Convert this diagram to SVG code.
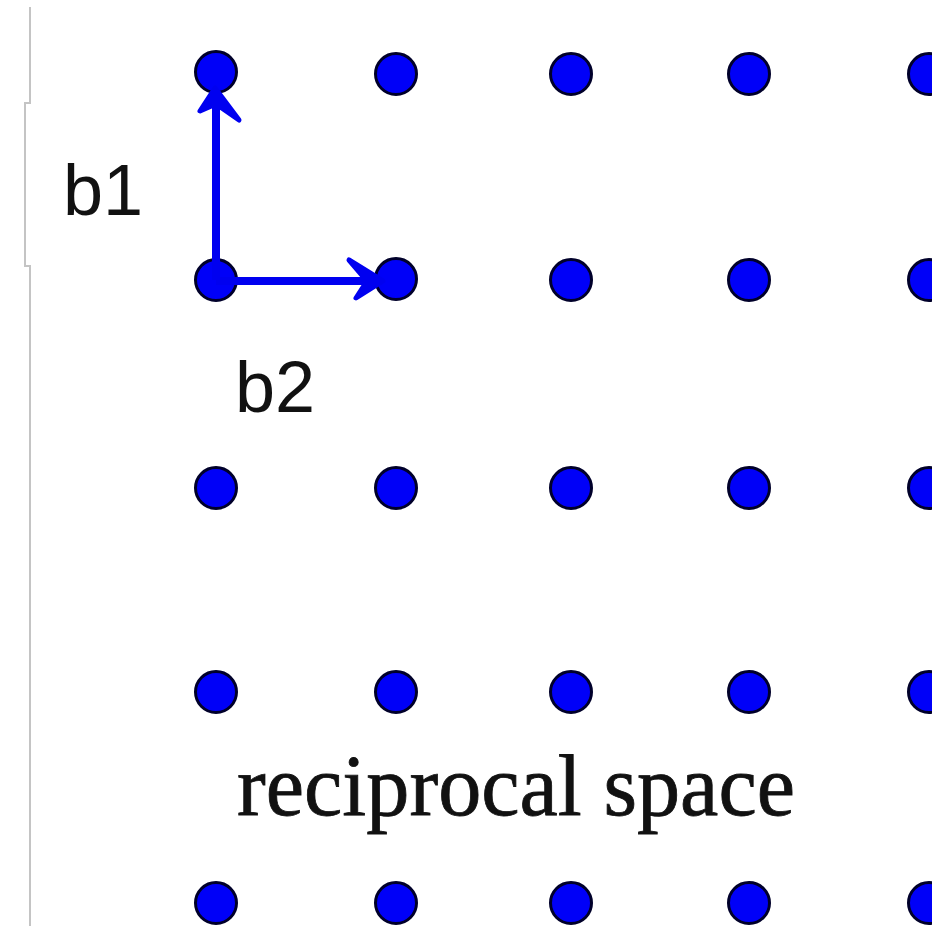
<svg xmlns="http://www.w3.org/2000/svg" width="932" height="926" viewBox="0 0 932 926">
  <style>
    .dot { fill: #0000f8; stroke: #00002a; stroke-width: 3; }
    .sans { font-family: "Liberation Sans", Arial, sans-serif; font-size: 72px; fill: #111; }
    .serif { font-family: "Liberation Serif", "Times New Roman", serif; font-size: 86px; fill: #111; stroke: #111; stroke-width: 0.8; }
    .vec { stroke: #0000f0; stroke-width: 8; fill: none; }
    .head { fill: #0000f0; stroke: #0000f0; stroke-width: 5; stroke-linejoin: round; }
  </style>
  <defs>
    <circle id="pt" r="20.5" class="dot"/>
  </defs>
  <rect width="932" height="926" fill="#ffffff"/>
  <g id="frame">
    <path d="M30,7 V103 H25 V266 H30 V926" fill="none" stroke="#c4c4c4" stroke-width="2"/>
  </g>
  <g id="lattice">
    <g id="row1">
      <use href="#pt" x="216" y="72"/><use href="#pt" x="396" y="74"/><use href="#pt" x="571" y="74"/><use href="#pt" x="749" y="74"/><use href="#pt" x="929" y="74"/>
    </g>
    <g id="row2">
      <use href="#pt" x="216" y="280"/><use href="#pt" x="396" y="279"/><use href="#pt" x="571" y="280"/><use href="#pt" x="749" y="280"/><use href="#pt" x="929" y="280"/>
    </g>
    <g id="row3">
      <use href="#pt" x="216" y="488"/><use href="#pt" x="396" y="488"/><use href="#pt" x="571" y="488"/><use href="#pt" x="749" y="488"/><use href="#pt" x="929" y="488"/>
    </g>
    <g id="row4">
      <use href="#pt" x="216" y="692"/><use href="#pt" x="396" y="692"/><use href="#pt" x="571" y="692"/><use href="#pt" x="749" y="692"/><use href="#pt" x="929" y="692"/>
    </g>
    <g id="row5">
      <use href="#pt" x="216" y="903"/><use href="#pt" x="396" y="903"/><use href="#pt" x="571" y="903"/><use href="#pt" x="749" y="903"/><use href="#pt" x="929" y="903"/>
    </g>
  </g>
  <g id="connectors">
    <g id="vec-b1">
      <line class="vec" x1="216" y1="280" x2="216" y2="100"/>
      <polygon class="head" points="215,88 200,111 216,104 239,120"/>
    </g>
    <g id="vec-b2">
      <line class="vec" x1="216" y1="281" x2="370" y2="281"/>
      <polygon class="head" points="383,281 349,260 367,281 356,298"/>
    </g>
  </g>
  <g id="label-b1"><text class="sans" x="63" y="215">b1</text></g>
  <g id="label-b2"><text class="sans" x="235" y="412">b2</text></g>
  <g id="label-title"><text class="serif" x="237" y="815" textLength="558" lengthAdjust="spacingAndGlyphs">reciprocal space</text></g>
</svg>
